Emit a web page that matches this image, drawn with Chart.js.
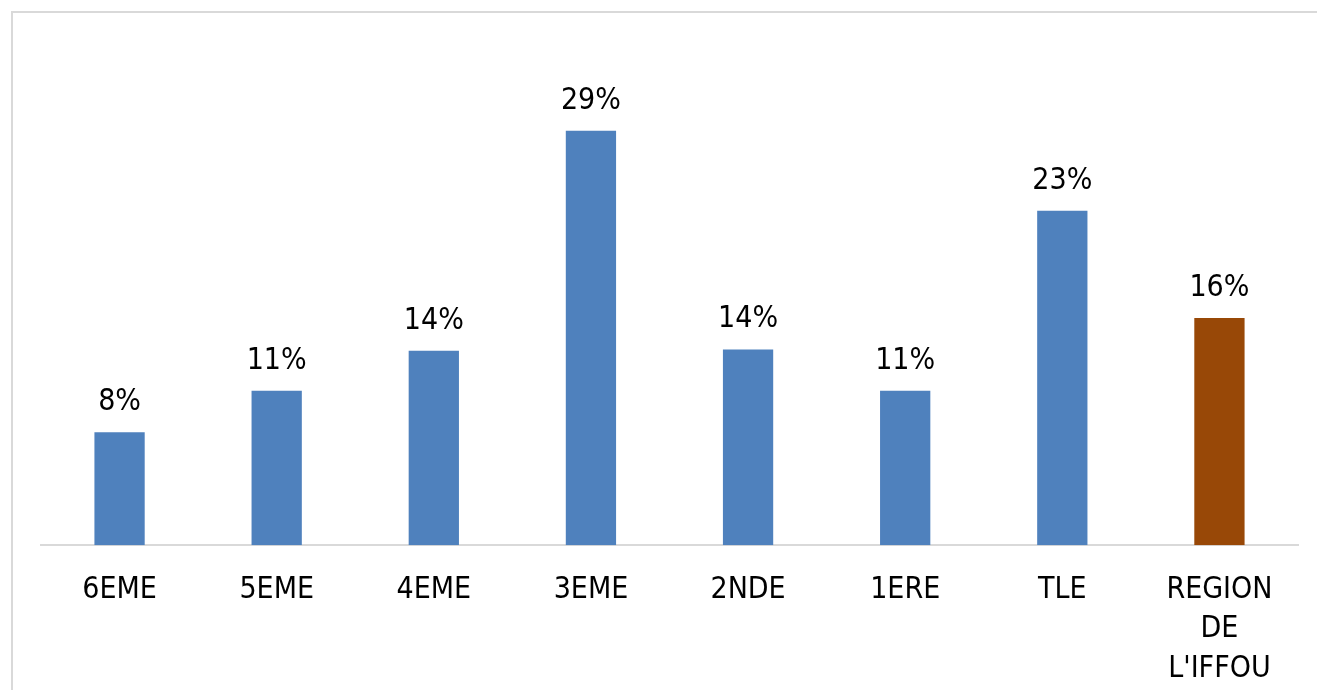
<!DOCTYPE html>
<html>
<head>
<meta charset="utf-8">
<script src="https://cdn.jsdelivr.net/npm/chart.js@4.4.1/dist/chart.umd.min.js"></script>
<style>
  html, body { margin: 0; padding: 0; background: #fff; }
  #wrap { position: relative; width: 1317px; height: 690px; overflow: hidden; }
  #frame { position: absolute; left: 11px; top: 11px; width: 1320px; height: 700px;
           border: 2px solid #d9d9d9; box-sizing: border-box; }
  #chart { position: absolute; left: 0; top: 0; }
</style>
</head>
<body>
<div id="wrap">
  <div id="frame"></div>
  <canvas id="chart" width="1317" height="719"></canvas>
</div>
<script>
// classes and share values (percent)
var categories = ['6EME', '5EME', '4EME', '3EME', '2NDE', '1ERE', 'TLE', ['REGION', 'DE', "L'IFFOU"]];
var values = [7.9, 10.8, 13.6, 29.0, 13.7, 10.8, 23.4, 15.9];
var barColors = ['#4f81bd', '#4f81bd', '#4f81bd', '#4f81bd', '#4f81bd', '#4f81bd', '#4f81bd', '#984807'];

var fontFamily = '"DejaVu Sans Condensed", "DejaVu Sans", sans-serif';

// value labels above bars
var valueLabels = {
    id: 'valueLabels',
    afterDatasetsDraw: function(chart) {
        var ctx = chart.ctx;
        var meta = chart.getDatasetMeta(0);
        ctx.save();
        ctx.font = '30px ' + fontFamily;
        ctx.fillStyle = '#000';
        ctx.textAlign = 'center';
        ctx.textBaseline = 'middle';
        meta.data.forEach(function(bar, i) {
            ctx.fillText(Math.round(values[i]) + '%', bar.x, bar.y - 30);
        });
        ctx.restore();
    }
};

new Chart(document.getElementById('chart').getContext('2d'), {
    type: 'bar',
    data: {
        labels: categories,
        datasets: [{
            data: values,
            backgroundColor: barColors,
            borderWidth: 0,
            categoryPercentage: 1,
            barPercentage: 0.32
        }]
    },
    options: {
        responsive: false,
        animation: false,
        layout: { padding: { left: 41, right: 19, top: 45, bottom: 5 } },
        plugins: { legend: { display: false }, tooltip: { enabled: false } },
        scales: {
            x: {
                grid: { display: false, drawTicks: false },
                border: { display: true, color: '#d9d9d9', width: 2 },
                ticks: {
                    color: '#000',
                    padding: 25,
                    maxRotation: 0,
                    autoSkip: false,
                    font: { family: fontFamily, size: 30, lineHeight: 1.32 }
                }
            },
            y: {
                display: false,
                min: 0,
                max: 35
            }
        }
    },
    plugins: [valueLabels]
});
</script>
</body>
</html>
